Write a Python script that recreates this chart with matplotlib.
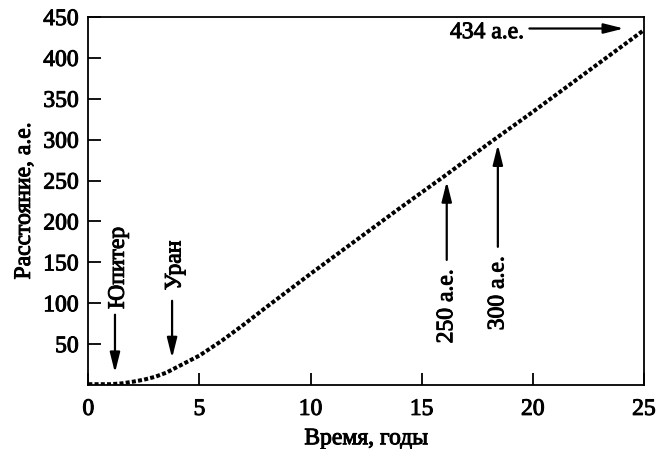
import numpy as np
import matplotlib
matplotlib.use("Agg")
import matplotlib.pyplot as plt
import matplotlib.patheffects as pe

plt.rcParams['font.family'] = ['Liberation Serif', 'DejaVu Serif']

# distance of the probe vs time
years = [0, 1, 1.5, 2, 2.5, 3, 3.5, 4, 4.5, 5, 6, 7, 8, 10, 12, 14, 16, 18, 20, 22, 25]
dist_au = [1, 1, 2, 4, 6.5, 10, 15, 22, 29, 36, 54, 74, 95, 136, 176, 216, 255, 295, 334, 374, 434]

xticks = [0, 5, 10, 15, 20, 25]
yticks = [50, 100, 150, 200, 250, 300, 350, 400, 450]

fs = 17
heavy = [pe.withStroke(linewidth=0.7, foreground='black')]

fig = plt.figure(figsize=(6.59, 4.49), dpi=100)
ax = fig.add_axes([0.134, 0.1425, 0.843, 0.8195])

ax.plot(years, dist_au, color='black', lw=2.9, linestyle=(0, (1, 0.55)),
        dash_capstyle='butt')

ax.set_xlim(0, 25)
ax.set_ylim(0, 450)
ax.set_xticks(xticks)
ax.set_yticks(yticks)
ax.tick_params(direction='in', length=9, width=1.3, labelsize=fs)
ax.tick_params(axis='x', pad=10)
ax.tick_params(axis='y', pad=7)
for s in ax.spines.values():
    s.set_linewidth(1.3)

ax.set_xlabel('Время, годы', fontsize=fs, labelpad=6)
ax.set_ylabel('Расстояние, а.е.', fontsize=fs, labelpad=6)

arrow = dict(arrowstyle='-|>,head_length=1.2,head_width=0.3', color='black',
             lw=1.6, shrinkA=0, shrinkB=0, mutation_scale=10)

# planet flybys (arrows down)
ax.annotate('', xy=(1.2, 15), xytext=(1.2, 86), arrowprops=arrow)
ax.text(1.35, 93, 'Юпитер', rotation=90, ha='center', va='bottom', fontsize=fs)
ax.annotate('', xy=(3.77, 33), xytext=(3.77, 103), arrowprops=arrow)
ax.text(3.9, 116, 'Уран', rotation=90, ha='center', va='bottom', fontsize=fs)

# distance marks (arrows up)
ax.annotate('', xy=(16.13, 249), xytext=(16.13, 153), arrowprops=arrow)
ax.text(16.13, 141, '250 а.е.', rotation=90, ha='center', va='top', fontsize=fs)
ax.annotate('', xy=(18.43, 294), xytext=(18.43, 169), arrowprops=arrow)
ax.text(18.43, 157, '300 а.е.', rotation=90, ha='center', va='top', fontsize=fs)

# final distance
ax.annotate('', xy=(24.1, 436), xytext=(19.85, 436), arrowprops=arrow)
ax.text(19.6, 431, '434 а.е.', ha='right', va='center', fontsize=fs)

# darker text like the printed original
for t in ax.texts + ax.get_xticklabels() + ax.get_yticklabels() + [ax.xaxis.label, ax.yaxis.label]:
    t.set_path_effects(heavy)

fig.savefig('out.png', dpi=100)
